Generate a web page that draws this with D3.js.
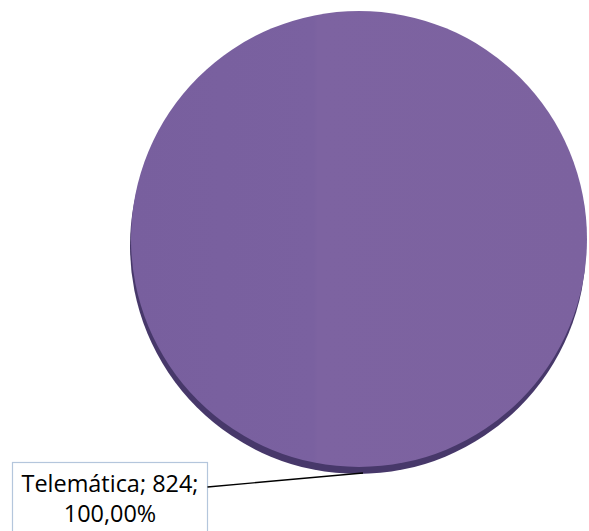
<!DOCTYPE html>
<html>
<head>
<meta charset="utf-8">
<script src="https://cdn.jsdelivr.net/npm/d3@7"></script>
<style>
  html, body { margin: 0; padding: 0; background: #ffffff; }
  svg { display: block; }
</style>
</head>
<body>
<svg id="chart" width="589" height="531"></svg>
<script>
const categories = ["Telemática"];
const values = [824];
const colors = ["#7b62a0"];

const W = 589, H = 531;
const cx = 359, cy = 239, r = 228;
const svg = d3.select("#chart");

const defs = svg.append("defs");
const grad = defs.append("linearGradient").attr("id", "faceGrad")
  .attr("x1", "0").attr("y1", "0").attr("x2", "1").attr("y2", "0");
grad.append("stop").attr("offset", "0%").attr("stop-color", "#785f9e");
grad.append("stop").attr("offset", "40%").attr("stop-color", "#7a61a0");
grad.append("stop").attr("offset", "41%").attr("stop-color", "#7d63a1");
grad.append("stop").attr("offset", "100%").attr("stop-color", "#7c629f");

const total = d3.sum(values);
const pie = d3.pie().sort(null).value(d => d)(values);
const arc = d3.arc().innerRadius(0).outerRadius(r);

// shadow / depth
const gShadow = svg.append("g").attr("transform", `translate(${cx - 1},${cy + 7})`);
gShadow.selectAll("path").data(pie).join("path")
  .attr("d", arc)
  .attr("fill", "#47386a");

const g = svg.append("g").attr("transform", `translate(${cx},${cy})`);
g.selectAll("path").data(pie).join("path")
  .attr("d", arc)
  .attr("fill", "url(#faceGrad)");

// label
const fmtPct = v => (v * 100).toFixed(2).replace(".", ",") + "%";
const line1 = `${categories[0]}; ${values[0]};`;
const line2 = fmtPct(values[0] / total);

const box = { x: 12.5, y: 462.5, w: 195, h: 80 };
svg.append("rect")
  .attr("x", box.x).attr("y", box.y).attr("width", box.w).attr("height", box.h)
  .attr("fill", "#ffffff").attr("stroke", "#b4c6dc").attr("stroke-width", 1.2);

// leader line from box to bottom of pie
const lx = cx + 4, ly = cy + r + 6;
svg.append("path")
  .attr("d", `M${box.x + box.w},487 L${lx},${ly}`)
  .attr("stroke", "#000").attr("stroke-width", 1.4).attr("fill", "none");

const tx = box.x + box.w / 2;
const t = svg.append("text")
  .attr("font-family", "'Open Sans', Lato, sans-serif")
  .attr("font-size", 22)
  .attr("fill", "#000")
  .attr("text-anchor", "middle");
const s1 = t.append("tspan").attr("x", tx).attr("y", 492).text(line1);
t.append("tspan").attr("x", tx).attr("y", 522).text(line2);
// fit first line to the reference width
const w1 = s1.node().getComputedTextLength();
t.attr("font-size", (22 * 177 / w1).toFixed(2));
</script>
</body>
</html>
